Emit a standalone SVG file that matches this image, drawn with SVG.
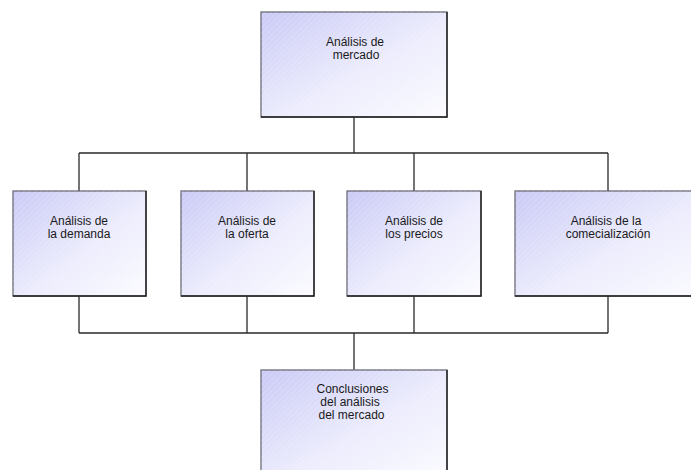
<svg xmlns="http://www.w3.org/2000/svg" width="691" height="470" viewBox="0 0 691 470">
<style>
.box{fill:url(#g);stroke:#6a6a78;stroke-width:1.3}
.hatch{fill:url(#h)}
.edge{fill:none;stroke:#1e1e1e;stroke-width:1.4}
.conn{fill:none;stroke:#2a2a2a;stroke-width:1.3}
text{font-family:"Liberation Sans",Arial,sans-serif;font-size:12px;fill:#1a1a1a;text-anchor:middle}
</style>
<defs>
<linearGradient id="g" x1="0" y1="0" x2="1" y2="1">
<stop offset="0" stop-color="#cacaf6"/>
<stop offset="0.55" stop-color="#ececfd"/>
<stop offset="1" stop-color="#fbfbff"/>
</linearGradient>
<pattern id="h" width="4" height="4" patternUnits="userSpaceOnUse" patternTransform="rotate(-45)">
<rect width="4" height="1" fill="#ffffff" fill-opacity="0.15"/>
</pattern>
</defs>
<g id="connectors">
<path class="conn" d="M354 117V153M79 153H608M79 153V191M247 153V191M414 153V191M608 153V191"/>
<path class="conn" d="M79 296V333M247 296V333M414 296V333M608 296V333M79 333H608M354 333V370"/>
</g>
<g id="n-mercado">
<rect class="box" x="261" y="12" width="186" height="105"/>
<rect class="hatch" x="261" y="12" width="186" height="105"/>
<path class="edge" d="M261 117H447V12"/>
<text x="355" y="46">Análisis de</text>
<text x="356" y="59">mercado</text>
</g>
<g id="n-demanda">
<rect class="box" x="13" y="191" width="133" height="105"/>
<rect class="hatch" x="13" y="191" width="133" height="105"/>
<path class="edge" d="M13 296H146V191"/>
<text x="79" y="224.5">Análisis de</text>
<text x="79" y="238">la demanda</text>
</g>
<g id="n-oferta">
<rect class="box" x="181" y="191" width="133" height="105"/>
<rect class="hatch" x="181" y="191" width="133" height="105"/>
<path class="edge" d="M181 296H314V191"/>
<text x="247" y="224.5">Análisis de</text>
<text x="247" y="238">la oferta</text>
</g>
<g id="n-precios">
<rect class="box" x="347" y="191" width="134" height="105"/>
<rect class="hatch" x="347" y="191" width="134" height="105"/>
<path class="edge" d="M347 296H481V191"/>
<text x="414" y="224.5">Análisis de</text>
<text x="414" y="238">los precios</text>
</g>
<g id="n-comercializacion">
<rect class="box" x="515" y="191" width="186" height="105"/>
<rect class="hatch" x="515" y="191" width="186" height="105"/>
<path class="edge" d="M515 296H701"/>
<text x="606" y="224.5">Análisis de la</text>
<text x="608" y="238">comecialización</text>
</g>
<g id="n-conclusiones">
<rect class="box" x="261" y="370" width="186" height="110"/>
<rect class="hatch" x="261" y="370" width="186" height="110"/>
<path class="edge" d="M447 370V480"/>
<text x="352.5" y="392.5">Conclusiones</text>
<text x="350" y="405.5">del análisis</text>
<text x="351.5" y="419">del mercado</text>
</g>
</svg>
